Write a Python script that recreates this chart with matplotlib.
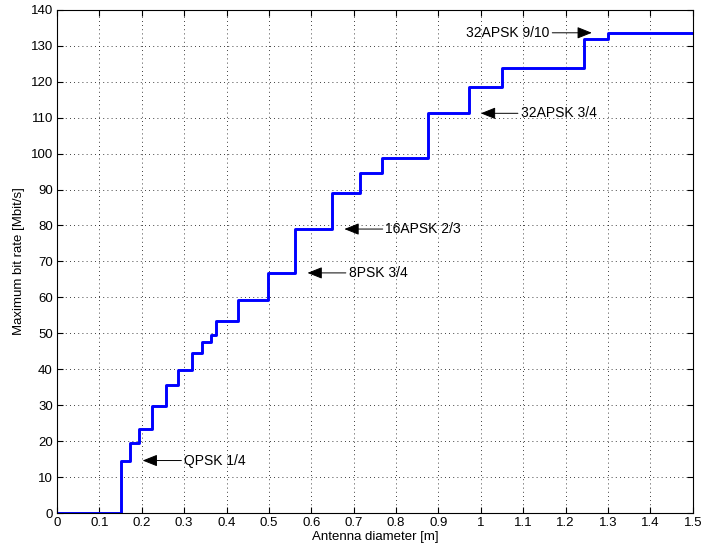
import matplotlib
matplotlib.use("Agg")
import matplotlib.pyplot as plt

plt.rcParams['font.family'] = ['Liberation Sans', 'DejaVu Sans']

# step edges (antenna diameter, m) and bit rate level from each edge on (Mbit/s)
diameter = [0, 0.150, 0.172, 0.193, 0.223, 0.257, 0.285, 0.318, 0.341, 0.363,
            0.375, 0.428, 0.498, 0.562, 0.649, 0.716, 0.766, 0.875, 0.972,
            1.050, 1.243, 1.300, 1.5]
bitrate = [0, 14.6, 19.6, 23.5, 29.8, 35.6, 39.7, 44.5, 47.5, 49.6,
           53.4, 59.4, 66.8, 79.1, 88.9, 94.7, 98.9, 111.2, 118.5,
           123.7, 131.8, 133.6, 133.6]

# annotations: label, arrow tip (x, y), text anchor x
modcod_labels = ["QPSK 1/4", "8PSK 3/4", "16APSK 2/3", "32APSK 3/4", "32APSK 9/10"]
tip_x = [0.202, 0.591, 0.678, 1.000, 1.262]
tip_y = [14.6, 66.8, 79.0, 111.2, 133.6]
text_x = [0.300, 0.688, 0.775, 1.094, 1.162]

fig = plt.figure(figsize=(7.04, 5.53), dpi=100)
ax = fig.add_axes([0.081, 0.0723, 0.903, 0.910])

ax.step(diameter, bitrate, where='post', color='#0000ff', lw=2.1)

for lab, tx, ty, xx in zip(modcod_labels, tip_x, tip_y, text_x):
    ha = 'right' if xx < tx else 'left'
    ax.annotate(lab, xy=(tx, ty), xytext=(xx, ty), ha=ha, va='center',
                fontsize=10,
                arrowprops=dict(arrowstyle='-|>,head_length=0.75,head_width=0.3',
                                color='black', lw=0.7,
                                mutation_scale=12, shrinkA=0, shrinkB=0))

ax.set_xlim(0, 1.5)
ax.set_ylim(0, 140)
ax.set_xticks([i / 10 for i in range(16)])
ax.set_xticklabels(['0', '0.1', '0.2', '0.3', '0.4', '0.5', '0.6', '0.7', '0.8',
                    '0.9', '1', '1.1', '1.2', '1.3', '1.4', '1.5'])
ax.set_yticks(range(0, 141, 10))
ax.tick_params(direction='in', top=True, right=True, labelsize=9.5, length=4, pad=3)
ax.grid(True, color='black', linestyle=(0, (1, 4)), lw=0.6)
for s in ax.spines.values():
    s.set_linewidth(0.8)

ax.set_xlabel('Antenna diameter [m]', fontsize=9.5, labelpad=1)
ax.set_ylabel('Maximum bit rate [Mbit/s]', fontsize=9.5, labelpad=4)

fig.savefig('out.png', dpi=100)
